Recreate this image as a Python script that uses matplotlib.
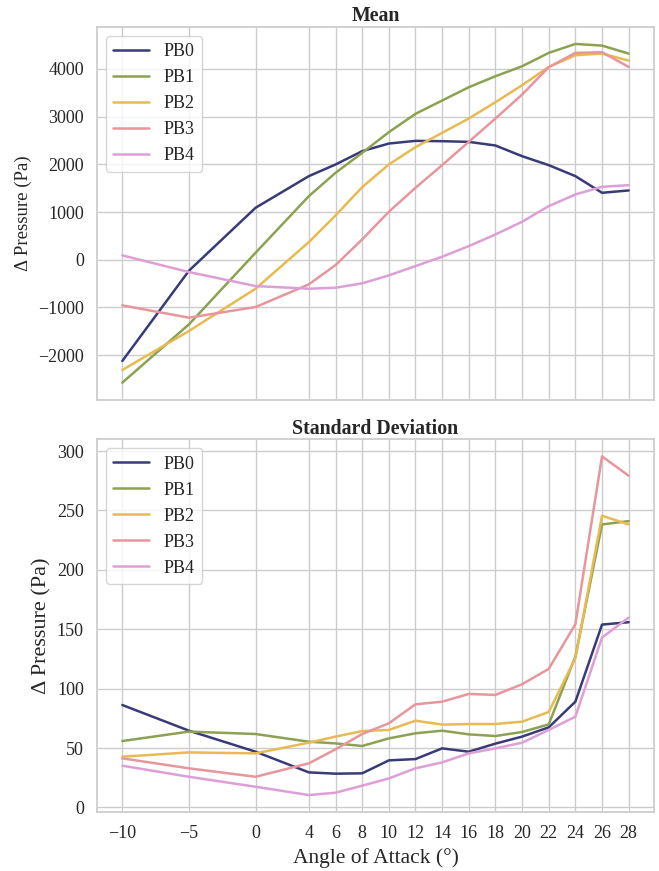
import matplotlib
matplotlib.use("Agg")
import matplotlib.pyplot as plt
import seaborn as sns

angles = [-10, -5, 0, 4, 6, 8, 10, 12, 14, 16, 18, 20, 22, 24, 26, 28]
series = ["PB0", "PB1", "PB2", "PB3", "PB4"]

mean_pb0 = [-2121, -230, 1089, 1752, 1996, 2275, 2435, 2491, 2484, 2470, 2394, 2170, 1982, 1752, 1403, 1452]
mean_pb1 = [-2575, -1354, 147, 1333, 1821, 2240, 2673, 3057, 3336, 3615, 3845, 4054, 4334, 4522, 4487, 4320]
mean_pb2 = [-2310, -1493, -607, 370, 928, 1521, 1996, 2359, 2659, 2959, 3301, 3657, 4040, 4285, 4320, 4173]
mean_pb3 = [-956, -1214, -991, -516, -112, 426, 1005, 1507, 1982, 2470, 2959, 3461, 4034, 4334, 4348, 4040]
mean_pb4 = [91, -258, -551, -607, -586, -495, -328, -133, 63, 286, 530, 796, 1124, 1368, 1528, 1563]

std_pb0 = [86.2, 64.6, 46.9, 29.5, 28.4, 28.7, 39.6, 40.7, 49.7, 46.9, 53.7, 59.6, 67.4, 89.0, 153.9, 155.9]
std_pb1 = [55.9, 63.8, 61.8, 55.3, 53.9, 51.7, 58.1, 62.4, 64.6, 61.5, 60.1, 63.5, 69.9, 127.0, 238.2, 241.0]
std_pb2 = [42.7, 46.3, 45.5, 54.5, 59.6, 64.3, 65.2, 73.0, 69.7, 70.2, 70.2, 72.2, 80.3, 125.6, 245.5, 238.2]
std_pb3 = [41.3, 32.9, 25.8, 37.1, 48.9, 61.8, 70.8, 86.8, 89.0, 95.5, 94.7, 103.7, 116.6, 154.2, 295.5, 279.2]
std_pb4 = [35.1, 25.8, 17.4, 10.4, 12.4, 18.3, 24.4, 32.9, 37.9, 45.5, 49.7, 54.5, 65.2, 76.4, 143.0, 159.8]

means = [mean_pb0, mean_pb1, mean_pb2, mean_pb3, mean_pb4]
stds = [std_pb0, std_pb1, std_pb2, std_pb3, std_pb4]
colors = ["#393b79", "#8ca252", "#e7ba52", "#e7969c", "#de9ed6"]

sns.set_theme(style="whitegrid")
plt.rcParams['font.family'] = ['Liberation Serif', 'DejaVu Serif']
plt.rcParams['mathtext.fontset'] = 'stix'

fig, (ax1, ax2) = plt.subplots(2, 1, figsize=(6.59, 8.71), dpi=100, sharex=True)
fig.subplots_adjust(left=97/659, right=654/659, top=1-27/871, bottom=1-812/871, hspace=0.107)

for name, vals, c in zip(series, means, colors):
    ax1.plot(angles, vals, color=c, lw=1.8, label=name)
for name, vals, c in zip(series, stds, colors):
    ax2.plot(angles, vals, color=c, lw=1.8, label=name)

ax1.set_title("Mean", fontsize=14.3, fontweight="bold", pad=4)
ax2.set_title("Standard Deviation", fontsize=14.3, fontweight="bold", pad=4)
ax1.set_ylabel("Δ Pressure (Pa)", fontsize=13.5)
ax2.set_ylabel("Δ Pressure (Pa)", fontsize=16)
ax2.set_xlabel("Angle of Attack (°)", fontsize=15.5)
ax2.set_xticks(angles)
ax1.set_yticks([-2000, -1000, 0, 1000, 2000, 3000, 4000])
ax2.set_yticks([0, 50, 100, 150, 200, 250, 300])
for ax in (ax1, ax2):
    ax.tick_params(labelsize=13)
    ax.legend(loc="upper left", fontsize=13, frameon=True)
ax1.tick_params(axis='x', labelbottom=False)

fig.savefig("out.png", dpi=100)
